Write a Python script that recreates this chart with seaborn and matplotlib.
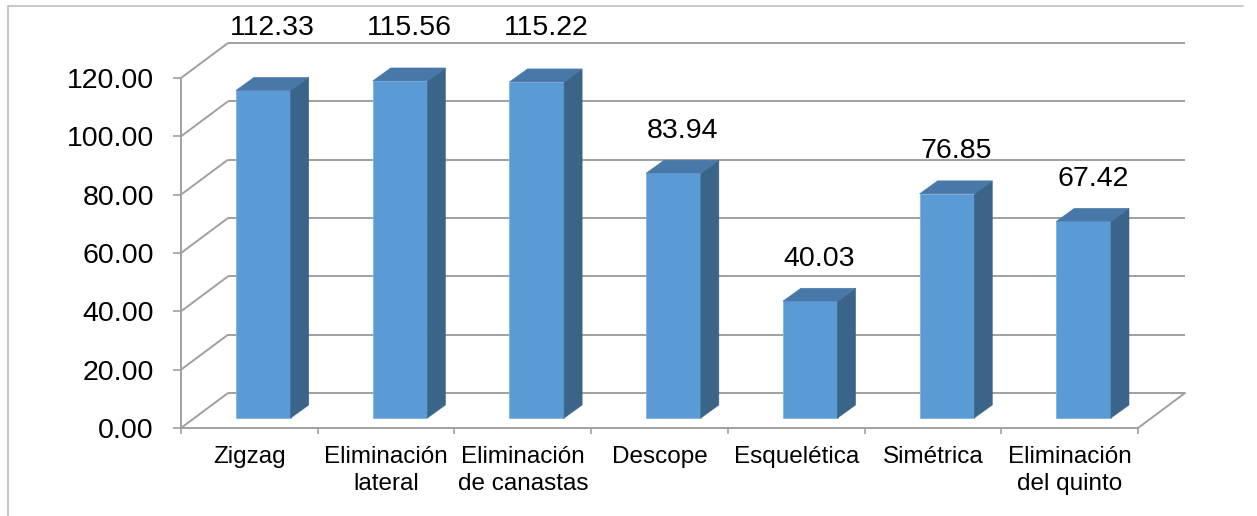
import matplotlib
matplotlib.use('Agg')
import matplotlib.pyplot as plt
import seaborn as sns
import numpy as np
import pandas as pd
from matplotlib.transforms import ScaledTranslation
from matplotlib.patches import Polygon
from matplotlib.lines import Line2D

# ---- data ----
categories = ["Zigzag", "Eliminación\nlateral", "Eliminación\nde canastas", "Descope",
              "Esquelética", "Simétrica", "Eliminación\ndel quinto"]
values = [112.33, 115.56, 115.22, 83.94, 40.03, 76.85, 67.42]
y_ticks = [0, 20, 40, 60, 80, 100, 120]
y_tick_labels = [f"{t:.2f}" for t in y_ticks]

# ---- style ----
sns.set_theme(style='white')
plt.rcParams['font.family'] = ['Liberation Sans', 'DejaVu Sans']

W, H = 1257, 516
fig = plt.figure(figsize=(W / 100, H / 100), dpi=100)
fig.patch.set_facecolor('white')
ax = fig.add_axes([181 / W, 88 / H, 957 / W, 350 / H])
ax.set_facecolor('none')

front_c = '#5B9BD5'
side_c = '#3B6489'
top_c = '#4778A8'
grid_c = '#A0A0A0'

df = pd.DataFrame({'cat': categories, 'val': values})
sns.barplot(data=df, x='cat', y='val', ax=ax, color=front_c, width=0.4,
            saturation=1, zorder=4, edgecolor='#7FB2E2', linewidth=0.6)
ax.set_xlim(-0.5, len(categories) - 0.5)
ax.set_ylim(0, 120)

# 3D geometry (data units)
px_x = 957 / len(categories)
px_y = 350 / 120
back_dx, back_dy = 47 / px_x, 35 / px_y
dep_dx, dep_dy = 18 / px_x, 13 / px_y

bar_off = ax.transData + ScaledTranslation(0.14, 0.10, fig.dpi_scale_trans)

for p in ax.patches:
    p.set_transform(bar_off)
    p.set_clip_on(False)
    x0 = p.get_x(); w = p.get_width(); h = p.get_height(); y0 = p.get_y()
    side = Polygon([(x0 + w, y0), (x0 + w + dep_dx, y0 + dep_dy),
                    (x0 + w + dep_dx, y0 + h + dep_dy), (x0 + w, y0 + h)],
                   closed=True, facecolor=side_c, edgecolor=side_c, lw=0.4,
                   transform=bar_off, zorder=4, clip_on=False)
    top = Polygon([(x0, y0 + h), (x0 + dep_dx, y0 + h + dep_dy),
                   (x0 + w + dep_dx, y0 + h + dep_dy), (x0 + w, y0 + h)],
                  closed=True, facecolor=top_c, edgecolor=top_c, lw=0.4,
                  transform=bar_off, zorder=4, clip_on=False)
    ax.add_patch(side)
    ax.add_patch(top)

# walls: back gridlines and left diagonals
x_left = -0.5
x_right = len(categories) - 0.5
for t in y_ticks:
    ax.plot([x_left, x_left + back_dx], [t, t + back_dy], color=grid_c, lw=1.4,
            zorder=1, clip_on=False, solid_capstyle='butt')
    ax.plot([x_left + back_dx, x_right + back_dx], [t + back_dy, t + back_dy],
            color=grid_c, lw=1.4, zorder=1, clip_on=False, solid_capstyle='butt')
# floor right edge
ax.plot([x_right, x_right + back_dx], [0, back_dy], color=grid_c, lw=1.4,
        zorder=1, clip_on=False)

# spines
for s in ['top', 'right']:
    ax.spines[s].set_visible(False)
for s in ['left', 'bottom']:
    ax.spines[s].set_color(grid_c)
    ax.spines[s].set_linewidth(1.4)
    ax.spines[s].set_zorder(2)

# ticks
ax.set_yticks(y_ticks)
ax.set_yticklabels(y_tick_labels)
ax.tick_params(axis='y', direction='out', length=6, width=1.2, color=grid_c,
               pad=13.5, labelsize=20.5, labelcolor='black', left=True)
ax.set_xticks(np.arange(len(categories)))
ax.set_xticklabels(categories, linespacing=1.3)
ax.tick_params(axis='x', which='major', length=0, pad=13, labelsize=17.5,
               labelcolor='black')
ax.set_xticks(np.arange(len(categories) + 1) - 0.5, minor=True)
ax.tick_params(axis='x', which='minor', direction='out', length=4, width=1.2,
               color=grid_c, bottom=True)
ax.set_xlabel('')
ax.set_ylabel('')

# value labels
for i, v in enumerate(values):
    ly = v + 18 if v + 18 < 125 else 137
    ax.text(i + 0.17, ly, f"{v:.2f}", ha='center', va='center', fontsize=20.5,
            color='black', zorder=6, clip_on=False)

# outer chart frame
fig.add_artist(Line2D([8 / W, 8 / W], [0, 1 - 6 / H], color='#BFBFBF', lw=1.2,
                      transform=fig.transFigure))
fig.add_artist(Line2D([8 / W, 1243 / W], [1 - 6 / H, 1 - 6 / H], color='#BFBFBF',
                      lw=1.2, transform=fig.transFigure))

fig.savefig('out.png', dpi=100, facecolor='white')
